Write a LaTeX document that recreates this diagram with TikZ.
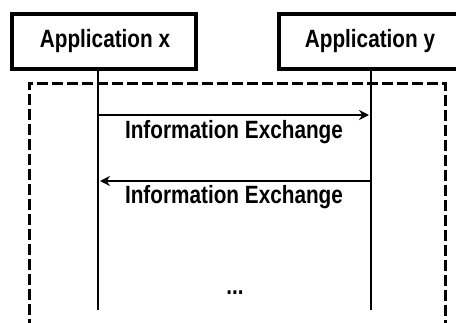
\documentclass[tikz,border=0pt]{standalone}
\usepackage{fontspec}
\setmainfont{Liberation Sans}
\newfontfamily\narrowbold[FakeStretch=0.83]{Liberation Sans Bold}
\usepackage{tikz}
\usetikzlibrary{arrows.meta}

\begin{document}
\begin{tikzpicture}[x=0.5pt,y=-0.5pt,
    appbox/.style={draw,line width=1.6pt,minimum width=92pt,minimum height=27.5pt,inner sep=0pt},
    msg/.style={line width=1.1pt,-{Stealth[length=5pt,width=5pt]}},
    lbl/.style={font=\fontsize{12.5}{14}\narrowbold}]
        \clip (0,0) rectangle (456,322);
        \node[appbox] (appx) at (104,41.5) {};
        \node[lbl] at (105,41.5) {Application x};
        \node[appbox] (appy) at (371,41.5) {};
        \node[lbl] at (370,41.5) {Application y};
        \draw[line width=1.5pt,dash pattern=on 5.5pt off 2pt] (29,360) -- (29,83) -- (445,83) -- (445,360);
        \coordinate (xend) at (98,310);
        \coordinate (yend) at (371,310);
        \draw[line width=1.2pt] (appx.south -| xend) -- (xend);
        \draw[line width=1.2pt] (appy.south -| yend) -- (yend);
        \draw[msg] (98,115) -- (369,115);
        \node[lbl] (info1) at (234,132) {Information Exchange};
        \draw[msg] (371,181) -- (100,181);
        \node[lbl] (info2) at (234,197) {Information Exchange};
        \node[lbl] (dots) at (235,293) {...};
    \end{tikzpicture}
\end{document}
